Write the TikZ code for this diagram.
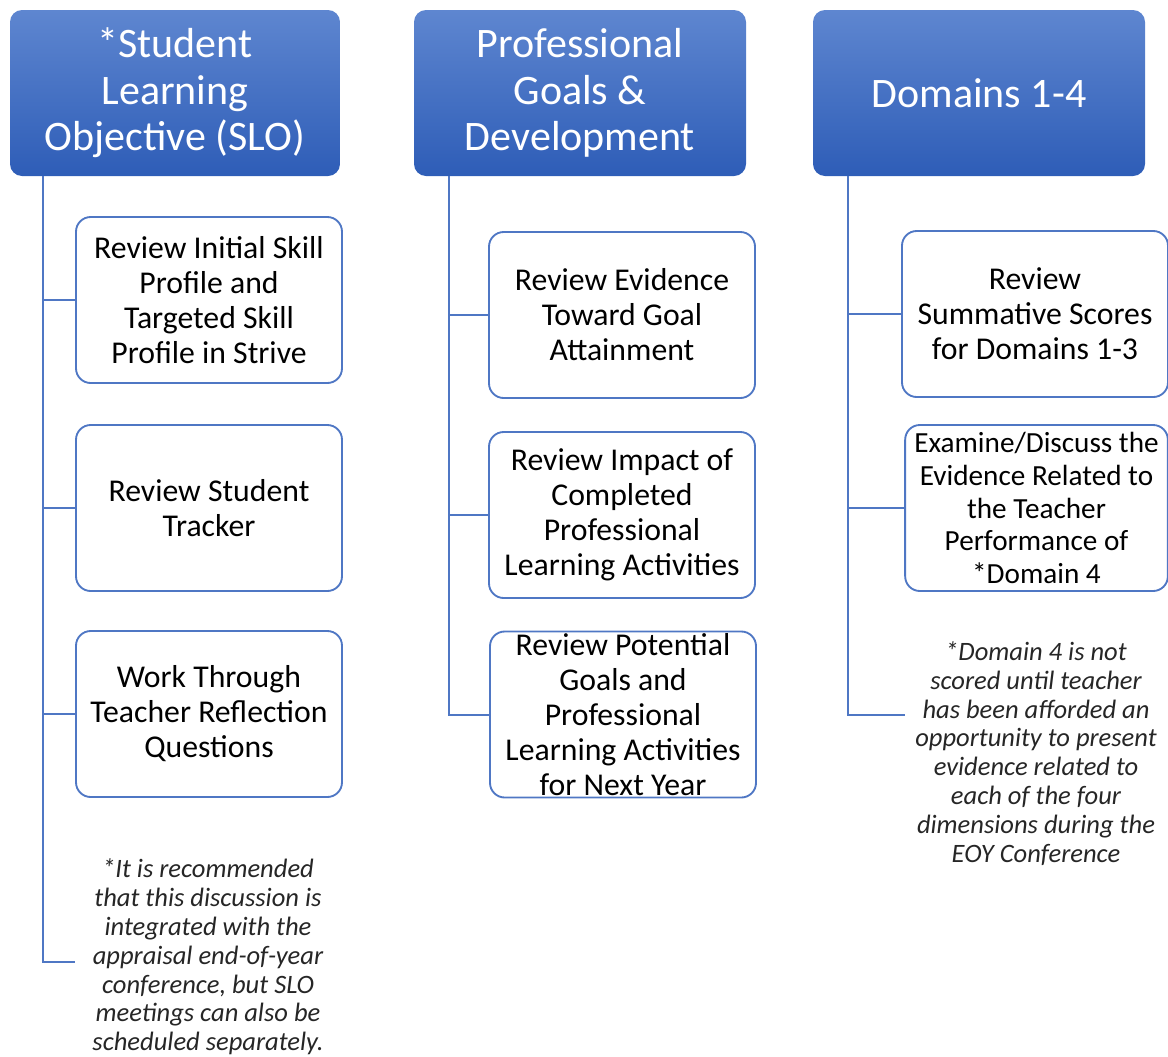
\documentclass[tikz,border=0pt]{standalone}
\usepackage{fontspec}
\setmainfont{Carlito}

\definecolor{hdrtop}{RGB}{94,134,208}
\definecolor{hdrbot}{RGB}{46,93,183}
\definecolor{edgeblue}{RGB}{79,119,196}

\tikzset{every picture/.style={line width=0.75pt}}
\tikzset{
	hdrbox/.style={rounded corners=9pt, top color=hdrtop, bottom color=hdrbot, draw=none, text=white, align=center, minimum width=249pt, minimum height=124.5pt, inner sep=0pt, font=\fontsize{31.5}{34.9}\selectfont},
	stepbox/.style={draw=edgeblue, line width=1.4pt, rounded corners=11pt, fill=white, align=center, minimum width=199.5pt, minimum height=124.5pt, inner sep=0pt, font=\fontsize{23.8}{26.25}\selectfont},
	notetext/.style={align=center, inner sep=0pt, text=black!85, font=\fontsize{19.9}{21.6}\selectfont\itshape},
	link/.style={draw=edgeblue, line width=1.5pt},
}

\begin{document}
\begin{tikzpicture}[x=0.75pt,y=0.75pt,yscale=-1,xscale=1]
		\path[use as bounding box] (0,0) rectangle (1168,1057);
		
		%Headers
		\node[hdrbox, minimum width=247.5pt] (slo) at (175,93) {*Student\\Learning\\Objective (SLO)};
		\node[hdrbox] (pgd) at (580,93) {Professional\\Goals \&\\Development};
		\node[hdrbox] (dom) at (979,93) {Domains 1-4};
		
		%Column 1
		\node[stepbox] (sloA) at (209,300) {Review Initial Skill\\Profile and\\Targeted Skill\\Profile in Strive};
		\node[stepbox] (sloB) at (209,508) {Review Student\\Tracker};
		\node[stepbox] (sloC) at (209,714) {Work Through\\Teacher Reflection\\Questions};
		\node[notetext] (sloNote) at (208,957) {*It is recommended\\that this discussion is\\integrated with the\\appraisal end-of-year\\conference, but SLO\\meetings can also be\\scheduled separately.};
		\coordinate (sloT) at (43,176);
		\coordinate (sloEnd) at (75,962);
		\foreach \n in {sloA,sloB,sloC}
			\draw[link] (sloT) |- (\n.west);
		\draw[link] (sloT) |- (sloEnd);
		
		%Column 2
		\node[stepbox] (pgdA) at (622,315) {Review Evidence\\Toward Goal\\Attainment};
		\node[stepbox] (pgdB) at (622,515) {Review Impact of\\Completed\\Professional\\Learning Activities};
		\node[stepbox, inner ysep=-3pt] (pgdC) at (623,714.5) {Review Potential\\Goals and\\Professional\\Learning Activities\\for Next Year};
		\coordinate (pgdT) at (449,176);
		\foreach \n in {pgdA,pgdB,pgdC}
			\draw[link] (pgdT) |- (\n.west);
		
		%Column 3
		\node[stepbox] (domA) at (1035,314) {Review\\Summative Scores\\for Domains 1-3};
		\node[stepbox, minimum width=197pt, font=\fontsize{21.9}{24.4}\selectfont] (domB) at (1036.5,508) {Examine/Discuss the\\Evidence Related to\\the Teacher\\Performance of\\*Domain 4};
		\node[notetext] (domNote) at (1036,753.5) {*Domain 4 is not\\scored until teacher\\has been afforded an\\opportunity to present\\evidence related to\\each of the four\\dimensions during the\\EOY Conference};
		\coordinate (domT) at (848,176);
		\coordinate (domEnd) at (905,715);
		\foreach \n in {domA,domB}
			\draw[link] (domT) |- (\n.west);
		\draw[link] (domT) |- (domEnd);
		
	\end{tikzpicture}
\end{document}
